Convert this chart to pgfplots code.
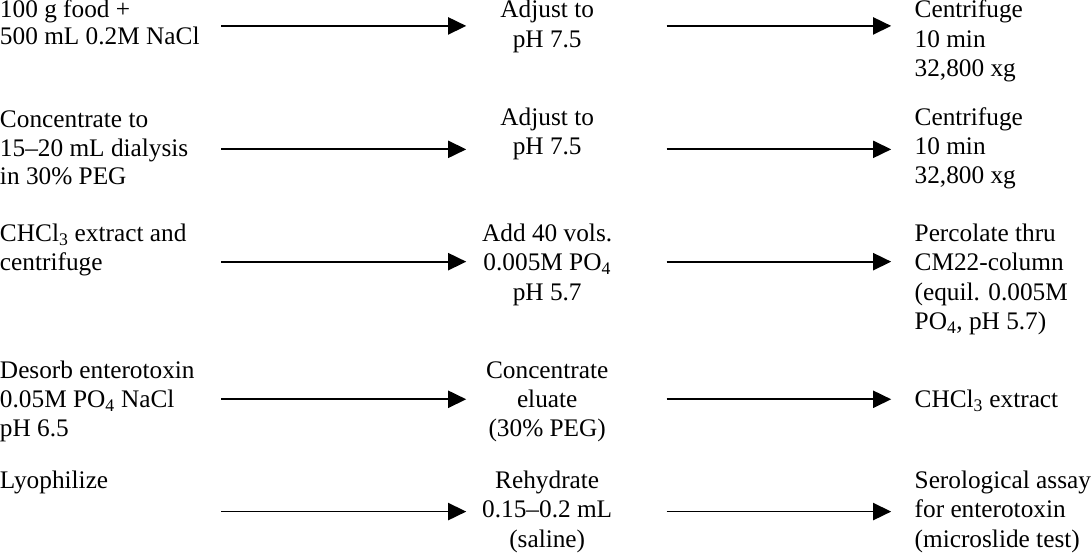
\documentclass[border=0pt]{standalone}
\usepackage{fontspec}
\setmainfont{Liberation Serif}
\usepackage{pgfplots}
\pgfplotsset{compat=1.18}
\usetikzlibrary{arrows.meta}
\tikzset{
  txt/.style={font=\fontsize{25}{29}\selectfont, inner sep=0pt},
  L/.style={txt, anchor=base west},
  M/.style={txt, anchor=base},
}
\pgfplotsset{arr/.style={black, line width=1.8pt, -{Triangle[length=18pt,width=17pt]}}}
\begin{document}
\begin{tikzpicture}
\begin{axis}[
  scale only axis, width=1091pt, height=557pt,
  xmin=0, xmax=1091, ymin=0, ymax=557, y dir=reverse,
  hide axis, clip=false,
]
% arrows (y in px from top)
\addplot[arr] coordinates {(223,33) (465,33)};
\addplot[arr] coordinates {(663,33) (885,33)};
\addplot[arr] coordinates {(223,155) (465,155)};
\addplot[arr] coordinates {(663,155) (885,155)};
\addplot[arr] coordinates {(223,266) (465,266)};
\addplot[arr] coordinates {(663,266) (885,266)};
\addplot[arr] coordinates {(223,402) (465,402)};
\addplot[arr] coordinates {(663,402) (885,402)};
\addplot[arr] coordinates {(223,513) (465,513)};
\addplot[arr] coordinates {(663,513) (885,513)};
% row 1
\node[L] at (axis cs:4,25) {100 g food +};
\node[L] at (axis cs:4,51) {500 mL 0.2M NaCl};
\node[M] at (axis cs:545,25) {Adjust to};
\node[M] at (axis cs:545,54) {pH 7.5};
\node[L] at (axis cs:908,25) {Centrifuge};
\node[L] at (axis cs:908,54) {10 min};
\node[L] at (axis cs:908,83) {32,800 xg};
% row 2
\node[L] at (axis cs:4,133) {Concentrate to};
\node[L] at (axis cs:4,162) {15--20 mL dialysis};
\node[L] at (axis cs:4,190) {in 30\% PEG};
\node[M] at (axis cs:545,131) {Adjust to};
\node[M] at (axis cs:545,160) {pH 7.5};
\node[L] at (axis cs:908,131) {Centrifuge};
\node[L] at (axis cs:908,160) {10 min};
\node[L] at (axis cs:908,189) {32,800 xg};
% row 3
\node[L] at (axis cs:4,246) {CHCl\textsubscript{3} extract and};
\node[L] at (axis cs:4,275) {centrifuge};
\node[M] at (axis cs:545,246) {Add 40 vols.};
\node[M] at (axis cs:545,275) {0.005M PO\textsubscript{4}};
\node[M] at (axis cs:545,304) {pH 5.7};
\node[L] at (axis cs:908,246) {Percolate thru};
\node[L] at (axis cs:908,275) {CM22-column};
\node[L] at (axis cs:908,304) {(equil. 0.005M};
\node[L] at (axis cs:908,333) {PO\textsubscript{4}, pH 5.7)};
% row 4
\node[L] at (axis cs:4,381) {Desorb enterotoxin};
\node[L] at (axis cs:4,410) {0.05M PO\textsubscript{4} NaCl};
\node[L] at (axis cs:4,439) {pH 6.5};
\node[M] at (axis cs:545,381) {Concentrate};
\node[M] at (axis cs:545,410) {eluate};
\node[M] at (axis cs:545,439) {(30\% PEG)};
\node[L] at (axis cs:908,410) {CHCl\textsubscript{3} extract};
% row 5
\node[L] at (axis cs:4,490) {Lyophilize};
\node[M] at (axis cs:545,490) {Rehydrate};
\node[M] at (axis cs:545,519) {0.15--0.2 mL};
\node[M] at (axis cs:545,548) {(saline)};
\node[L] at (axis cs:908,490) {Serological assay};
\node[L] at (axis cs:908,519) {for enterotoxin};
\node[L] at (axis cs:908,548) {(microslide test)};
\end{axis}
\end{tikzpicture}
\end{document}
